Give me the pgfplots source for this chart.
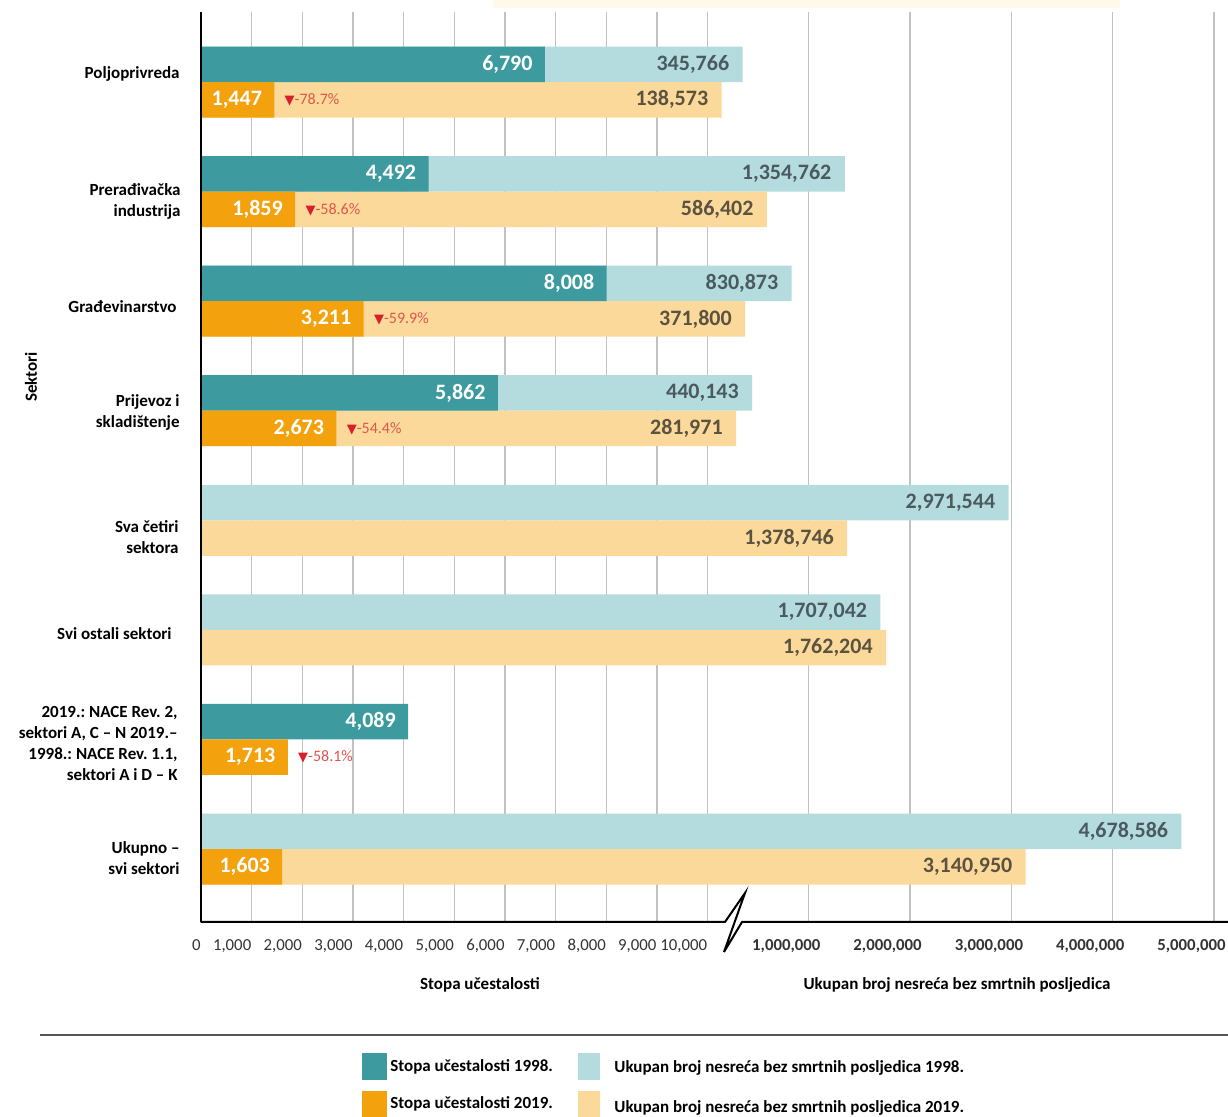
\documentclass[border=0pt]{standalone}
\usepackage{pgfplots}
\pgfplotsset{compat=1.18}
\usepackage{pgfplotstable}
\usepackage{fontspec}
\setmainfont{Carlito}
\newfontfamily\dejavu{DejaVu Sans}
\frenchspacing
\definecolor{tealA}{HTML}{3D9BA0}
\definecolor{lblue}{HTML}{B4DBDD}
\definecolor{orngB}{HTML}{F3A20E}
\definecolor{lorng}{HTML}{FAD99B}
\definecolor{valA}{HTML}{4B5A5F}
\definecolor{valB}{HTML}{5C5240}
\definecolor{pctred}{HTML}{E0564C}
\definecolor{tri}{HTML}{D81F2A}
\definecolor{gridc}{HTML}{C2C2C2}
\definecolor{tickc}{HTML}{333333}
\definecolor{topbox}{HTML}{FFF8EB}
\definecolor{sepc}{HTML}{555555}

% group index g (0 = top), value, printed label
\pgfplotstableread{
g v lab
0 345766 345,766
1 1354762 1,354,762
2 830873 830,873
3 440143 440,143
4 2971544 2,971,544
5 1707042 1,707,042
7 4678586 4,678,586
}\totA
\pgfplotstableread{
g v lab
0 138573 138,573
1 586402 586,402
2 371800 371,800
3 281971 281,971
4 1378746 1,378,746
5 1762204 1,762,204
7 3140950 3,140,950
}\totB
\pgfplotstableread{
g v lab
0 6790 6,790
1 4492 4,492
2 8008 8,008
3 5862 5,862
6 4089 4,089
}\frqA
\pgfplotstableread{
g v lab
0 1447 1,447
1 1859 1,859
2 3211 3,211
3 2673 2,673
6 1713 1,713
7 1603 1,603
}\frqB
\pgfplotstableread{
g v pct
0 1447 -78.7
1 1859 -58.6
2 3211 -59.9
3 2673 -54.4
6 1713 -58.1
}\chg

\begin{document}
\begin{tikzpicture}
\path[use as bounding box] (0pt,0pt) rectangle (614pt,-558.5pt);
\begin{scope}[x=0.5pt,y=-0.5pt]
  \fill[topbox] (493,0) rectangle (1120,8);
\end{scope}
\begin{axis}[
  at={(100.5pt,-6pt)}, anchor=north west,
  scale only axis, width=513.5pt, height=455pt,
  xmin=0, xmax=20.276, ymin=-7.666, ymax=0.639,
  xbar, bar width=17.75pt, bar shift=0pt,
  axis line style={draw=none},
  major tick length=0pt,
  ytick=\empty,
  xtick={0,1,2,3,4,5,6,7,8,9,10,12,14,16,18,20},
  xticklabels={0,{1,000},{2,000},{3,000},{4,000},{5,000},{6,000},{7,000},{8,000},{9,000},{10,000},
    {\textbf{1,000,000}\kern-6pt},{\textbf{2,000,000}\kern-6pt},{\textbf{3,000,000}\kern-6pt},{\textbf{4,000,000}\kern-6pt},{\textbf{5,000,000}\kern-6pt}},
  xticklabel style={anchor=north east, inner xsep=0pt, yshift=-4.5pt, text height=6pt, text depth=1.5pt, text=tickc, font=\fontsize{8.4}{10}\selectfont},
  xmajorgrids, major grid style={gridc, line width=0.65pt},
  clip=false,
]
\addplot[fill=lblue, draw=none, point meta=explicit symbolic, nodes near coords,
  every node near coord/.append style={anchor=east, inner xsep=0pt, xshift=-6.5pt, text=valA, font=\bfseries\fontsize{11}{13}\selectfont}]
  table[x expr=10+\thisrow{v}/500000, y expr=-\thisrow{g}+0.162, meta=lab] {\totA};
\addplot[fill=lorng, draw=none, point meta=explicit symbolic, nodes near coords,
  every node near coord/.append style={anchor=east, inner xsep=0pt, xshift=-6.5pt, text=valB, font=\bfseries\fontsize{11}{13}\selectfont}]
  table[x expr=10+\thisrow{v}/500000, y expr=-\thisrow{g}-0.162, meta=lab] {\totB};
\addplot[fill=tealA, draw=none, point meta=explicit symbolic, nodes near coords,
  every node near coord/.append style={anchor=east, inner xsep=0pt, xshift=-6pt, text=white, font=\bfseries\fontsize{11}{13}\selectfont}]
  table[x expr=\thisrow{v}/1000, y expr=-\thisrow{g}+0.162, meta=lab] {\frqA};
\addplot[fill=orngB, draw=none, point meta=explicit symbolic, nodes near coords,
  every node near coord/.append style={anchor=east, inner xsep=0pt, xshift=-6pt, text=white, font=\bfseries\fontsize{11}{13}\selectfont}]
  table[x expr=\thisrow{v}/1000, y expr=-\thisrow{g}-0.162, meta=lab] {\frqB};
\addplot[fill=none, draw=none, point meta=explicit symbolic,
  nodes near coords={{\dejavu\color{tri}\fontsize{6.5}{8}\selectfont ▼}\pgfplotspointmeta\%},
  every node near coord/.append style={anchor=west, inner xsep=0pt, xshift=5pt, text=pctred, font=\fontsize{8}{10}\selectfont}]
  table[x expr=\thisrow{v}/1000, y expr=-\thisrow{g}-0.162, meta=pct] {\chg};
\end{axis}
\begin{scope}[x=0.5pt,y=-0.5pt]
  % axis lines and break
  \draw[black, line width=1pt] (201,12) -- (201,922.5);
  \draw[black, line width=1pt, line join=miter] (200.5,922) -- (725,922) -- (745,893) -- (724,952) -- (742,922) -- (1228,922);
  % category labels
  \begin{scope}[every node/.style={anchor=east, align=right, inner sep=0pt, font=\bfseries\fontsize{8.5}{10.5}\selectfont}]
    \node at (180,74) {Poljoprivreda};
    \node at (181,201) {Prerađivačka\\industrija};
    \node at (177,307) {Građevinarstvo};
    \node at (180,412) {Prijevoz i\\skladištenje};
    \node at (179,537) {Sva četiri\\sektora};
    \node at (172,634) {Svi ostali sektori};
    \node at (178,743) {2019.: NACE Rev. 2,\\sektori A, C -- N 2019.--\\1998.: NACE Rev. 1.1,\\sektori A i D -- K};
    \node at (180,858) {Ukupno --\\svi sektori};
  \end{scope}
  \node[rotate=90, font=\bfseries\fontsize{8.5}{10.5}\selectfont] at (31,377) {Sektori};
  % axis titles
  \node[font=\bfseries\fontsize{8.5}{10.5}\selectfont] at (480,985) {Stopa učestalosti};
  \node[font=\bfseries\fontsize{8.5}{10.5}\selectfont] at (957,985) {Ukupan broj nesreća bez smrtnih posljedica};
  % separator
  \draw[sepc, line width=0.8pt] (40,1035) -- (1228,1035);
  % legend
  \fill[tealA] (362,1053) rectangle (387,1080);
  \fill[orngB] (362,1091) rectangle (387,1117);
  \fill[lblue] (578,1053) rectangle (600,1080);
  \fill[lorng] (578,1091) rectangle (600,1117);
  \begin{scope}[every node/.style={anchor=west, inner sep=0pt, font=\bfseries\fontsize{8.5}{10.5}\selectfont}]
    \node at (390,1067) {Stopa učestalosti 1998.};
    \node at (390,1104) {Stopa učestalosti 2019.};
    \node at (614,1068) {Ukupan broj nesreća bez smrtnih posljedica 1998.};
    \node at (614,1108) {Ukupan broj nesreća bez smrtnih posljedica 2019.};
  \end{scope}
\end{scope}
\end{tikzpicture}
\end{document}
